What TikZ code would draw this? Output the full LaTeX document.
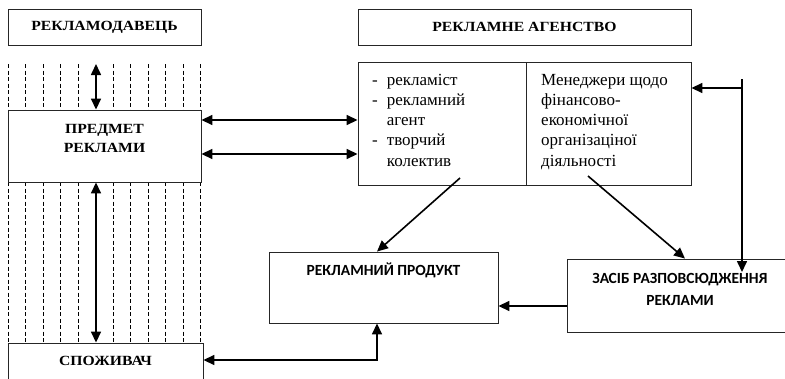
\documentclass[tikz,border=0pt]{standalone}
\usepackage{fontspec}
\setmainfont{Liberation Serif}
\newfontfamily\wideserif[FakeStretch=1.12]{Liberation Serif}
\newfontfamily\calibri{Carlito}
\usetikzlibrary{arrows.meta}

\begin{document}
\begin{tikzpicture}[x=1pt,y=-1pt,
		box/.style={draw=black!85, line width=0.9pt, rectangle, inner sep=0pt},
		arr/.style={line width=1.6pt, -{Triangle[length=11pt,width=10pt]}},
		biarr/.style={line width=1.6pt, {Triangle[length=11pt,width=10pt]}-{Triangle[length=11pt,width=10pt]}},
		hatch/.style={line width=0.7pt, dash pattern=on 4pt off 2.5pt},
		title/.style={font=\wideserif\bfseries\fontsize{14}{19}\selectfont, align=center, inner sep=0pt},
		sanstitle/.style={font=\calibri\bfseries\fontsize{15.5}{22}\selectfont, align=center, inner sep=0pt},
		plain/.style={font=\fontsize{17}{20.2}\selectfont, inner sep=0pt}]
			\path[use as bounding box, clip] (0,0) rectangle (785,378);
			% left column
			\foreach \i in {0,1,2,3,4,6,7,8,9,10,11} {
				\draw[hatch] (8+17.5*\i,64) -- (8+17.5*\i,110);
				\draw[hatch] (8+17.5*\i,182) -- (8+17.5*\i,343);
			}
			\node[box, title, minimum width=193, minimum height=36] (advertiser) at (104.5,27) {РЕКЛАМОДАВЕЦЬ};
			\node[box, fill=white, minimum width=193, minimum height=72] (subject) at (104.5,146) {};
			\node[title] (subjectlbl) at (104.5,138) {ПРЕДМЕТ\\РЕКЛАМИ};
			\node[box, fill=white, minimum width=195, minimum height=52] (consumer) at (105.5,369) {};
			\node[title] (consumerlbl) at (105.5,361) {СПОЖИВАЧ};
			% agency
			\node[box, title, minimum width=333, minimum height=36] (agency) at (524.5,27) {РЕКЛАМНЕ АГЕНСТВО};
			\node[box, minimum width=168, minimum height=123] (staff) at (442,123.5) {};
			\node[box, minimum width=165, minimum height=123] (managers) at (608.5,123.5) {};
			\node[plain, anchor=north west] (stafflbl) at (372,71) {\begin{tabular}{@{}l@{\hspace{9pt}}l@{}}
				- & рекламіст\\
				- & рекламний\\
				  & агент\\
				- & творчий\\
				  & колектив
			\end{tabular}};
			\node[plain, anchor=north west] (managerslbl) at (541,71) {\begin{tabular}{@{}l@{}}
				Менеджери щодо\\
				фінансово-\\
				економічної\\
				організаціної\\
				діяльності
			\end{tabular}};
			% product and media
			\node[box, minimum width=229, minimum height=71] (product) at (383.5,287.5) {};
			\node[sanstitle] (productlbl) at (383.5,270) {РЕКЛАМНИЙ ПРОДУКТ};
			\node[box, minimum width=226, minimum height=73] (media) at (680,295.5) {};
			\node[sanstitle] (medialbl) at (680,289) {ЗАСІБ РАЗПОВСЮДЖЕННЯ\\РЕКЛАМИ};
			% connectors
			\coordinate (up) at (96,64);
			\coordinate (fromstaff) at (460,178);
			\coordinate (frommanagers) at (588,176);
			\coordinate (feed) at (742,79);
			\draw[biarr] (up) -- (up |- subject.north);
			\draw[biarr] (up |- subject.south) -- (up |- consumer.north);
			\draw[biarr] (subject.east |- 0,120) -- (staff.west |- 0,120);
			\draw[biarr] (subject.east |- 0,154) -- (staff.west |- 0,154);
			\draw[arr] (fromstaff) -- (377,0 |- product.north);
			\draw[arr] (frommanagers) -- (685,0 |- media.north);
			\draw[arr] (feed) -- (feed |- 0,272);
			\draw[arr] (feed |- 0,88) -- (managers.east |- 0,88);
			\draw[arr] (media.west |- 0,306) -- (product.east |- 0,306);
			\draw[biarr] (consumer.east |- 0,360) -| (377,0 |- product.south);
		\end{tikzpicture}
\end{document}
